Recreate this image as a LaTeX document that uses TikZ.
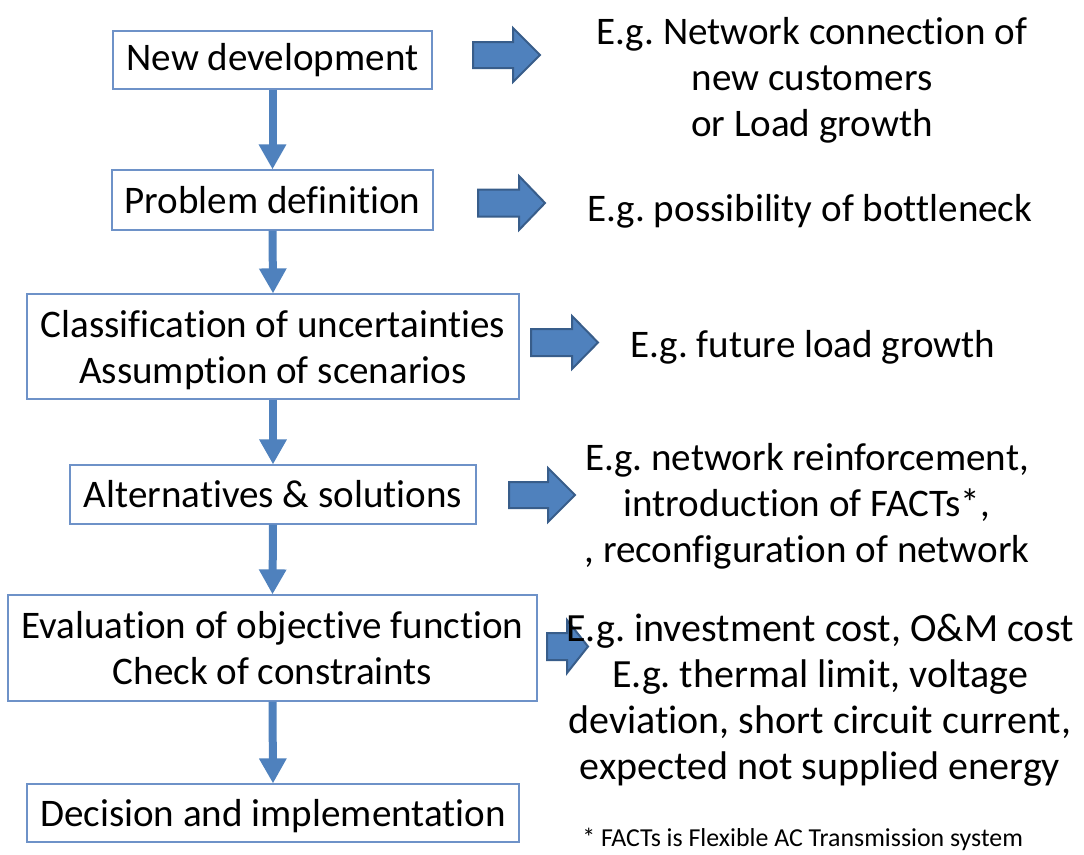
\documentclass[tikz,border=0pt]{standalone}
\usepackage{fontspec}
\setmainfont[Ligatures=NoCommon]{Carlito}
\usetikzlibrary{arrows.meta}
\definecolor{accent}{RGB}{79,129,189}
\definecolor{accentdark}{RGB}{56,93,138}
\definecolor{boxline}{RGB}{110,146,200}
\newcommand\blockarrow[6]{\filldraw[barrow] (#1,#4-#5) -- (#2,#4-#5) -- (#2,#4-#6) -- (#3,#4) -- (#2,#4+#6) -- (#2,#4+#5) -- (#1,#4+#5) -- cycle;}
\tikzset{
  stepbox/.style={draw=boxline, line width=0.9pt, fill=white, inner sep=0pt, align=center,
    font=\fontsize{29.3}{34.5}\selectfont},
  note/.style={inner sep=0pt, align=center, font=\fontsize{29.3}{34.5}\selectfont},
  flow/.style={draw=accent, line width=6pt, -{Triangle[width=19.5pt,length=18.75pt]}},
  barrow/.style={fill=accent, draw=accentdark, line width=1.5pt, line join=miter}
}
\frenchspacing
\begin{document}
\begin{tikzpicture}[x=0.75pt, y=-0.75pt]
\useasboundingbox (0,0) rectangle (1084,854);
% boxes
\node[stepbox, minimum width=319*0.75pt, minimum height=58*0.75pt] (b1) at (272.5,60) {New development};
\node[stepbox, minimum width=321*0.75pt, minimum height=60*0.75pt] (b2) at (272.5,200) {Problem definition};
\node[stepbox, minimum width=492*0.75pt, minimum height=105*0.75pt, text depth=0pt] (b3) at (273,346.5) {Classification of uncertainties\\Assumption of scenarios};
\node[stepbox, minimum width=406*0.75pt, minimum height=59*0.75pt] (b4) at (273,494.5) {Alternatives \& solutions};
\node[stepbox, minimum width=529*0.75pt, minimum height=106*0.75pt] (b5) at (272.5,648) {Evaluation of objective function\\Check of constraints};
\node[stepbox, minimum width=492*0.75pt, minimum height=58*0.75pt, text depth=0pt] (b6) at (273,813) {Decision and implementation};
% flow arrows
\draw[flow] (b1.south) -- (b2.north);
\draw[flow] (b2.south) -- (b3.north);
\draw[flow] (b3.south) -- (b4.north);
\draw[flow] (b4.south) -- (b5.north);
\draw[flow] (b5.south) -- (b6.north);
% block arrows
\blockarrow{473}{513}{540}{55}{13}{27}
\blockarrow{478}{519}{545}{203}{13.5}{27}
\blockarrow{531}{572}{598}{342.5}{13.5}{26.5}
\blockarrow{509}{548}{575}{495}{13}{27}
\blockarrow{547}{567}{588}{646.5}{13.5}{26.5}
% notes
\node[note] (t1) at (812,80) {E.g. Network connection of\\new customers\\or Load growth};
\node[note] (t2) at (810,211) {E.g. possibility of bottleneck};
\node[note] (t3) at (813,347) {E.g. future load growth};
\node[note] (t4) at (807,506) {E.g. network reinforcement,\\introduction of FACTs*,\\, reconfiguration of network};
\node[note, font=\fontsize{30}{34.5}\selectfont] (t5) at (820,700) {E.g. investment cost, O\&M cost\\E.g. thermal limit, voltage\\deviation, short circuit current,\\expected not supplied energy};
\node[inner sep=0pt, anchor=west, font=\fontsize{19.4}{23}\selectfont] (fn) at (582,839) {* FACTs is Flexible AC Transmission system};
\end{tikzpicture}
\end{document}
